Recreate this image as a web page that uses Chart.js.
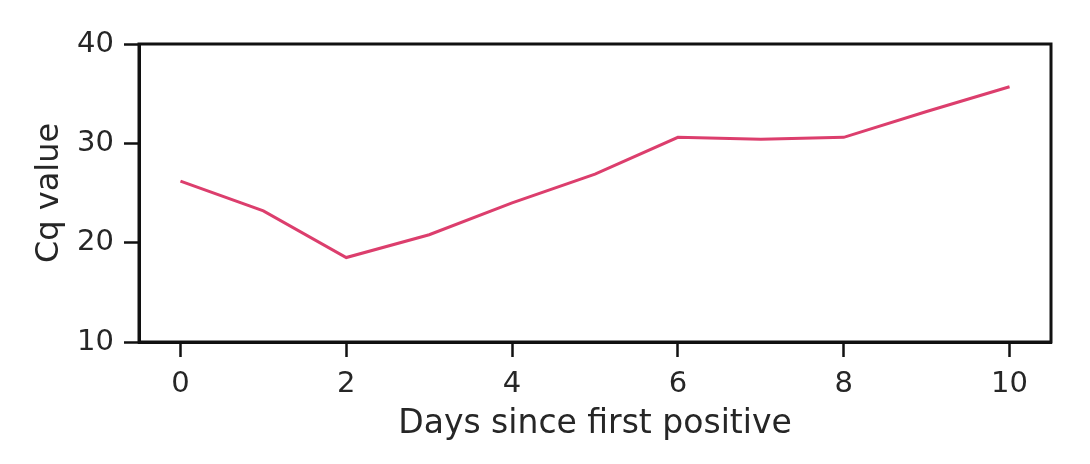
<!DOCTYPE html>
<html>
<head>
<meta charset="utf-8">
<script src="https://cdn.jsdelivr.net/npm/chart.js@4"></script>
<style>
  html, body { margin: 0; padding: 0; background: #fff; }
  #wrap { width: 1090px; height: 464px; }
</style>
</head>
<body>
<div id="wrap"><canvas id="cqChart" width="1090" height="464"></canvas></div>
<script>
  const days = [0, 1, 2, 3, 4, 5, 6, 7, 8, 9, 10];
  const cqValues = [26.2, 23.2, 18.5, 20.8, 24.0, 26.9, 30.6, 30.4, 30.6, 33.2, 35.7];
  const xTicks = [0, 2, 4, 6, 8, 10];
  const yTicks = [10, 20, 30, 40];

  const ink = '#262626';
  const font = 'DejaVu Sans';

  // full box around the plot area (matplotlib style spines)
  const boxPlugin = {
    id: 'box',
    afterDraw(chart) {
      const { ctx, chartArea: a } = chart;
      ctx.save();
      ctx.strokeStyle = '#111';
      ctx.lineWidth = 3;
      ctx.strokeRect(a.left, a.top, a.right - a.left, a.bottom - a.top);
      ctx.restore();
    }
  };

  const ctx = document.getElementById('cqChart').getContext('2d');
  const cqChart = new Chart(ctx, {
    type: 'line',
    data: {
      datasets: [{
        data: days.map((d, i) => ({ x: d, y: cqValues[i] })),
        borderColor: '#dc3e6d',
        borderWidth: 3,
        pointRadius: 0,
        fill: false,
        tension: 0
      }]
    },
    options: {
      responsive: false,
      animation: false,
      layout: { padding: { left: 0, top: 44, right: 39, bottom: 0 } },
      plugins: { legend: { display: false }, tooltip: { enabled: false } },
      scales: {
        x: {
          type: 'linear',
          min: -0.5,
          max: 10.5,
          afterBuildTicks: s => { s.ticks = xTicks.map(v => ({ value: v })); },
          afterFit: s => { s.height = 122; },
          border: { display: true, color: '#111', width: 3 },
          grid: { drawOnChartArea: false, drawTicks: true, tickLength: 15, tickWidth: 2.5, tickColor: '#111' },
          ticks: { color: ink, font: { family: font, size: 29 }, padding: 10, maxRotation: 0 },
          title: { display: true, text: 'Days since first positive', color: ink,
                   font: { family: font, size: 33 }, padding: { top: 0, bottom: 20 } }
        },
        y: {
          min: 10,
          max: 40,
          afterBuildTicks: s => { s.ticks = yTicks.map(v => ({ value: v })); },
          afterFit: s => { s.width = 139; },
          border: { display: true, color: '#111', width: 3 },
          grid: { drawOnChartArea: false, drawTicks: true, tickLength: 15, tickWidth: 2.5, tickColor: '#111' },
          ticks: { color: ink, font: { family: font, size: 29 }, padding: 10 },
          title: { display: true, text: 'Cq value', color: ink,
                   font: { family: font, size: 32 }, padding: { top: 30, bottom: 0 } }
        }
      }
    },
    plugins: [boxPlugin]
  });
</script>
</body>
</html>
